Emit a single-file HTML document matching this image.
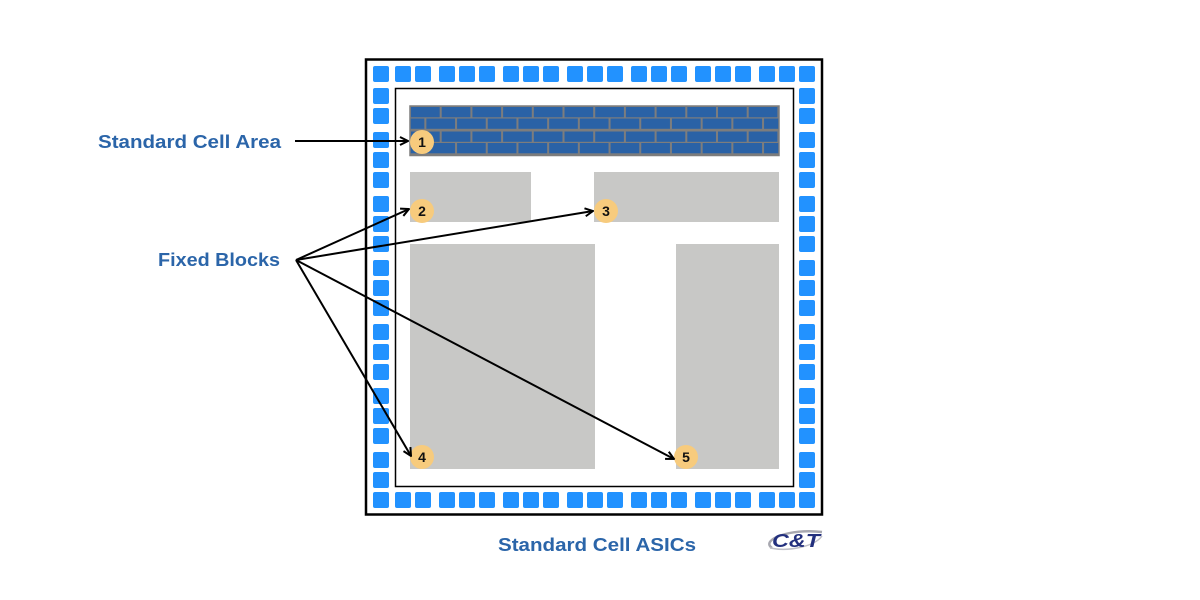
<!DOCTYPE html>
<html><head><style>
html,body{margin:0;padding:0;background:#fff;}
svg{display:block;}
</style></head><body>
<svg width="1200" height="600" viewBox="0 0 1200 600" xmlns="http://www.w3.org/2000/svg">
<defs>
<pattern id="brick" x="410" y="106" width="30.7" height="24.5" patternUnits="userSpaceOnUse">
<rect x="0" y="0" width="30.7" height="24.5" fill="#7d7d7d"/>
<rect x="1" y="1" width="28.7" height="10.3" fill="#2a62a6"/>
<rect x="-14.35" y="12.5" width="28.7" height="10.3" fill="#2a62a6"/>
<rect x="16.35" y="12.5" width="28.7" height="10.3" fill="#2a62a6"/>
</pattern>
<marker id="ah" markerWidth="10" markerHeight="10" refX="9" refY="5" orient="auto" markerUnits="userSpaceOnUse">
<path d="M1,1 L9,5 L1,9" fill="none" stroke="#000" stroke-width="2"/>
</marker>
<rect id="p" width="16" height="16" rx="2" fill="#2292ff"/>
</defs>

<rect x="366" y="59.5" width="456" height="455" fill="none" stroke="#000" stroke-width="2.5"/>
<rect x="395.5" y="88.5" width="398" height="398" fill="none" stroke="#000" stroke-width="1.5"/>

<g>
<use href="#p" x="373" y="66"/><use href="#p" x="395" y="66"/><use href="#p" x="415" y="66"/><use href="#p" x="439" y="66"/><use href="#p" x="459" y="66"/><use href="#p" x="479" y="66"/><use href="#p" x="503" y="66"/><use href="#p" x="523" y="66"/><use href="#p" x="543" y="66"/><use href="#p" x="567" y="66"/><use href="#p" x="587" y="66"/><use href="#p" x="607" y="66"/><use href="#p" x="631" y="66"/><use href="#p" x="651" y="66"/><use href="#p" x="671" y="66"/><use href="#p" x="695" y="66"/><use href="#p" x="715" y="66"/><use href="#p" x="735" y="66"/><use href="#p" x="759" y="66"/><use href="#p" x="779" y="66"/><use href="#p" x="799" y="66"/>
<use href="#p" x="373" y="492"/><use href="#p" x="395" y="492"/><use href="#p" x="415" y="492"/><use href="#p" x="439" y="492"/><use href="#p" x="459" y="492"/><use href="#p" x="479" y="492"/><use href="#p" x="503" y="492"/><use href="#p" x="523" y="492"/><use href="#p" x="543" y="492"/><use href="#p" x="567" y="492"/><use href="#p" x="587" y="492"/><use href="#p" x="607" y="492"/><use href="#p" x="631" y="492"/><use href="#p" x="651" y="492"/><use href="#p" x="671" y="492"/><use href="#p" x="695" y="492"/><use href="#p" x="715" y="492"/><use href="#p" x="735" y="492"/><use href="#p" x="759" y="492"/><use href="#p" x="779" y="492"/><use href="#p" x="799" y="492"/>
<use href="#p" x="373" y="88"/><use href="#p" x="373" y="108"/><use href="#p" x="373" y="132"/><use href="#p" x="373" y="152"/><use href="#p" x="373" y="172"/><use href="#p" x="373" y="196"/><use href="#p" x="373" y="216"/><use href="#p" x="373" y="236"/><use href="#p" x="373" y="260"/><use href="#p" x="373" y="280"/><use href="#p" x="373" y="300"/><use href="#p" x="373" y="324"/><use href="#p" x="373" y="344"/><use href="#p" x="373" y="364"/><use href="#p" x="373" y="388"/><use href="#p" x="373" y="408"/><use href="#p" x="373" y="428"/><use href="#p" x="373" y="452"/><use href="#p" x="373" y="472"/>
<use href="#p" x="799" y="88"/><use href="#p" x="799" y="108"/><use href="#p" x="799" y="132"/><use href="#p" x="799" y="152"/><use href="#p" x="799" y="172"/><use href="#p" x="799" y="196"/><use href="#p" x="799" y="216"/><use href="#p" x="799" y="236"/><use href="#p" x="799" y="260"/><use href="#p" x="799" y="280"/><use href="#p" x="799" y="300"/><use href="#p" x="799" y="324"/><use href="#p" x="799" y="344"/><use href="#p" x="799" y="364"/><use href="#p" x="799" y="388"/><use href="#p" x="799" y="408"/><use href="#p" x="799" y="428"/><use href="#p" x="799" y="452"/><use href="#p" x="799" y="472"/>
</g>

<rect x="410" y="106" width="369" height="49.5" fill="url(#brick)"/>
<rect x="410" y="106" width="369" height="49.5" fill="none" stroke="#7d7d7d" stroke-width="1.5"/>

<rect x="410" y="172" width="121" height="50" fill="#c8c8c6"/>
<rect x="594" y="172" width="185" height="50" fill="#c8c8c6"/>
<rect x="410" y="244" width="185" height="225" fill="#c8c8c6"/>
<rect x="676" y="244" width="103" height="225" fill="#c8c8c6"/>

<g font-family="Liberation Sans, sans-serif" font-size="14" font-weight="bold" text-anchor="middle" fill="#111">
<circle cx="422" cy="142" r="12" fill="#f7cb7d"/><text x="422" y="147">1</text>
<circle cx="422" cy="211" r="12" fill="#f7cb7d"/><text x="422" y="216">2</text>
<circle cx="606" cy="211" r="12" fill="#f7cb7d"/><text x="606" y="216">3</text>
<circle cx="422" cy="457" r="12" fill="#f7cb7d"/><text x="422" y="462">4</text>
<circle cx="686" cy="457" r="12" fill="#f7cb7d"/><text x="686" y="462">5</text>
</g>

<g stroke="#000" stroke-width="2" fill="none">
<line x1="295" y1="141" x2="408" y2="141" marker-end="url(#ah)"/>
<line x1="296" y1="260" x2="409" y2="209" marker-end="url(#ah)"/>
<line x1="296" y1="260" x2="593" y2="211" marker-end="url(#ah)"/>
<line x1="296" y1="260" x2="411" y2="456" marker-end="url(#ah)"/>
<line x1="296" y1="260" x2="674" y2="459" marker-end="url(#ah)"/>
</g>

<g font-family="Liberation Sans, sans-serif" font-size="18" font-weight="bold" fill="#2b65a9">
<text x="98" y="148" textLength="183" lengthAdjust="spacingAndGlyphs">Standard Cell Area</text>
<text x="158" y="266" textLength="122" lengthAdjust="spacingAndGlyphs">Fixed Blocks</text>
<text x="498" y="551" textLength="198" lengthAdjust="spacingAndGlyphs">Standard Cell ASICs</text>
</g>

<path d="M772,548 C760,540 790,528 822,532" fill="none" stroke="#a8a8b0" stroke-width="2.5"/>
<path d="M770,548 C790,552 815,546 822,536" fill="none" stroke="#c0c0c8" stroke-width="1.5"/>
<text x="796" y="547" text-anchor="middle" font-family="Liberation Sans, sans-serif" font-size="18" font-weight="bold" font-style="italic" fill="#23307e" textLength="48" lengthAdjust="spacingAndGlyphs">C&amp;T</text>
</svg>
</body></html>
